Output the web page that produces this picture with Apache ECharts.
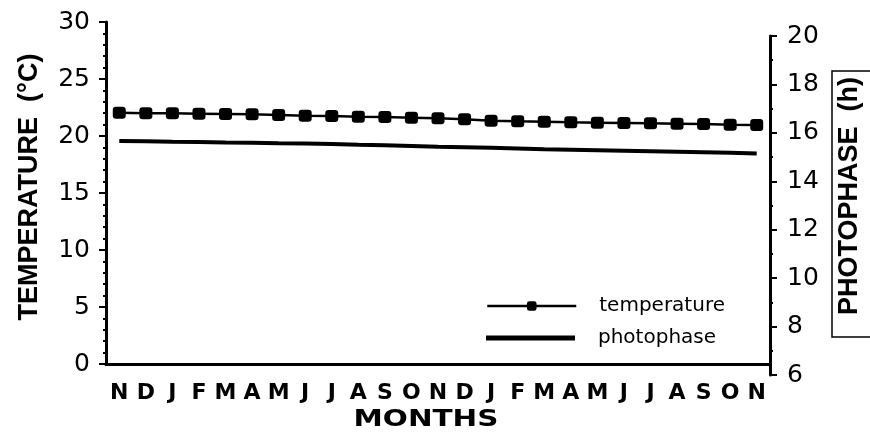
<!DOCTYPE html>
<html>
<head>
<meta charset="utf-8">
<script src="https://cdn.jsdelivr.net/npm/echarts@6/dist/echarts.min.js"></script>
<style>
html,body{margin:0;padding:0;background:#fff;}
#chart{width:870px;height:435px;}
</style>
</head>
<body>
<div id="chart"></div>
<script>
const months = ['N','D','J','F','M','A','M','J','J','A','S','O','N','D','J','F','M','A','M','J','J','A','S','O','N'];
const temperature = [22.04,21.99,21.99,21.96,21.93,21.90,21.84,21.78,21.75,21.69,21.67,21.61,21.55,21.46,21.34,21.29,21.25,21.20,21.17,21.14,21.11,21.08,21.05,20.99,20.96];
const photophase = [15.66,15.65,15.63,15.62,15.60,15.59,15.57,15.56,15.54,15.51,15.49,15.46,15.43,15.41,15.38,15.35,15.32,15.30,15.28,15.26,15.24,15.22,15.20,15.18,15.15];
const tempTicks = {min:0, max:30, interval:5};
const photoTicks = {min:6, max:20, interval:2};

const chart = echarts.init(document.getElementById('chart'));
const numFont = {fontFamily:'DejaVu Sans', fontSize:25, color:'#000'};
const legendText = {fontFamily:'DejaVu Sans', fontSize:20, color:'#000', padding:[0,0,0,18]};
chart.setOption({
  backgroundColor:'#fff',
  animation:false,
  grid:[
    {left:106, right:100, top:22, bottom:71},
    {left:106, right:100, top:36, bottom:60}
  ],
  legend:[
    {left:481, top:291, itemWidth:89, itemHeight:12, textStyle:legendText,
     lineStyle:{width:2.5, color:'#000'},
     data:[{name:'temperature'}]},
    {left:481, top:323, itemWidth:89, itemHeight:5, textStyle:legendText,
     data:[{name:'photophase', icon:'rect'}]}
  ],
  xAxis:[
    {gridIndex:0, type:'category', data:months, boundaryGap:true, offset:4,
     axisLine:{lineStyle:{color:'#000', width:3}},
     axisTick:{alignWithLabel:true, length:6, lineStyle:{color:'#000', width:2}},
     axisLabel:{margin:14, fontFamily:'DejaVu Sans', fontWeight:'bold', fontSize:22, color:'#000', interval:0},
     splitLine:{show:false}},
    {gridIndex:1, type:'category', data:months, boundaryGap:true, show:false}
  ],
  yAxis:[
    {gridIndex:0, type:'value', min:tempTicks.min, max:tempTicks.max, interval:tempTicks.interval,
     axisLine:{show:true, lineStyle:{color:'#000', width:3}},
     axisTick:{show:true, length:7, lineStyle:{color:'#000', width:2}},
     minorTick:{show:true, splitNumber:5, length:3, lineStyle:{color:'#000', width:2}},
     axisLabel:Object.assign({margin:16}, numFont),
     splitLine:{show:false}},
    {gridIndex:1, type:'value', position:'right', min:photoTicks.min, max:photoTicks.max, interval:photoTicks.interval,
     axisLine:{show:true, lineStyle:{color:'#000', width:3}},
     axisTick:{show:true, length:7, lineStyle:{color:'#000', width:2}},
     minorTick:{show:true, splitNumber:2, length:3, lineStyle:{color:'#000', width:2}},
     axisLabel:Object.assign({margin:17}, numFont),
     splitLine:{show:false}}
  ],
  series:[
    {name:'temperature', type:'line', xAxisIndex:0, yAxisIndex:0, data:temperature,
     symbol:'roundRect', symbolSize:[13,12], showAllSymbol:true,
     lineStyle:{color:'#000', width:2.5}, itemStyle:{color:'#000'}},
    {name:'photophase', type:'line', xAxisIndex:1, yAxisIndex:1, data:photophase,
     symbol:'none', lineStyle:{color:'#000', width:4}, itemStyle:{color:'#000'}}
  ],
  graphic:[
    {type:'text', x:30, y:187, rotation:Math.PI/2,
     style:{text:'TEMPERATURE  (°C)', fontFamily:'Liberation Sans', fontWeight:'bold', fontSize:27, fill:'#000', align:'center', verticalAlign:'middle'}},
    {type:'text', x:850, y:196, rotation:Math.PI/2,
     style:{text:'PHOTOPHASE  (h)', fontFamily:'Liberation Sans', fontWeight:'bold', fontSize:27, fill:'#000', align:'center', verticalAlign:'middle'}},
    {type:'rect', shape:{x:832, y:71, width:60, height:266},
     style:{fill:null, stroke:'#000', lineWidth:1.5}},
    {type:'text', x:426, y:420, scaleX:1.28,
     style:{text:'MONTHS', fontFamily:'DejaVu Sans', fontWeight:'bold', fontSize:23, fill:'#000', align:'center', verticalAlign:'middle'}}
  ]
});
</script>
</body>
</html>
